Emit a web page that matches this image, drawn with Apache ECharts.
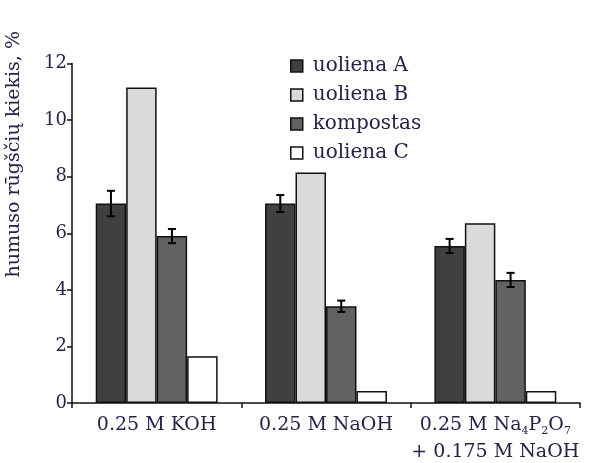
<!DOCTYPE html>
<html><head><meta charset="utf-8">
<script src="https://cdn.jsdelivr.net/npm/echarts@6/dist/echarts.min.js"></script>
<style>html,body{margin:0;padding:0;background:#fff}#c{width:590px;height:463px}</style>
</head><body><div id="c"></div>
<script>
var categories = ['0.25 M KOH', '0.25 M NaOH', '0.25 M Na4P2O7 + 0.175 M NaOH'];
var seriesNames = ['uoliena A', 'uoliena B', 'kompostas', 'uoliena C'];
var valuesA = [7.05, 7.05, 5.55];
var errorsA = [0.45, 0.3, 0.25];
var valuesB = [11.15, 8.15, 6.35];
var valuesK = [5.9, 3.42, 4.35];
var errorsK = [0.25, 0.2, 0.25];
var valuesC = [1.65, 0.42, 0.42];
var yTicks = [0, 2, 4, 6, 8, 10, 12];

var txt = '#24244a';
var font = '"DejaVu Serif", "Liberation Serif", serif';
var colors = ['#404042', '#dadadc', '#626264', '#ffffff'];
var catGap = 0.28;
var nBars = 4;

function errSeries(vals, errs, idx) {
  var data = vals.map(function (v, i) { return [i, v, errs[i]]; });
  return {
    type: 'custom', silent: true, z: 5,
    data: data,
    renderItem: function (params, api) {
      var ci = api.value(0), v = api.value(1), e = api.value(2);
      var bandW = api.size([1, 0])[0];
      var groupW = bandW * (1 - catGap);
      var bw = groupW / nBars;
      var off = -groupW / 2 + bw * (idx + 0.5);
      var top = api.coord([ci, v + e]);
      var bot = api.coord([ci, v - e]);
      var x = top[0] + off;
      var cap = 4;
      var st = { stroke: '#000', lineWidth: 2 };
      return { type: 'group', children: [
        { type: 'line', shape: { x1: x, y1: top[1], x2: x, y2: bot[1] }, style: st },
        { type: 'line', shape: { x1: x - cap, y1: top[1], x2: x + cap, y2: top[1] }, style: st },
        { type: 'line', shape: { x1: x - cap, y1: bot[1], x2: x + cap, y2: bot[1] }, style: st }
      ]};
    }
  };
}

function barSeries(name, vals, color) {
  return {
    name: name, type: 'bar', data: vals, barGap: '0%', barCategoryGap: (catGap * 100) + '%',
    itemStyle: { color: color, borderColor: '#111', borderWidth: 1.5 },
    emphasis: { disabled: true }
  };
}

var chart = echarts.init(document.getElementById('c'), null, { renderer: 'canvas' });
chart.setOption({
  animation: false,
  backgroundColor: '#fff',
  grid: { left: 72, right: 10, top: 63.5, bottom: 60, containLabel: false, outerBoundsMode: 'none' },
  legend: {
    orient: 'vertical', left: 285, top: 51,
    itemWidth: 12, itemHeight: 12, itemGap: 9,
    icon: 'rect',
    data: seriesNames,
    itemStyle: { borderColor: '#111', borderWidth: 1.5 },
    textStyle: { fontFamily: font, fontSize: 20, color: txt, padding: [0, 0, 0, 5] }
  },
  xAxis: {
    type: 'category', data: categories,
    axisLine: { lineStyle: { color: '#111', width: 1.5 } },
    axisTick: { show: true, interval: 0, length: 5, lineStyle: { color: '#111', width: 1.5 } },
    axisLabel: {
      interval: 0, hideOverlap: false,
      margin: 9, color: txt, fontFamily: font, fontSize: 19, lineHeight: 27,
      formatter: function (v) {
        if (v.indexOf('Na4P2O7') >= 0) {
          return '0.25 M Na{s|4}P{s|2}O{s|7}\n+ 0.175 M NaOH';
        }
        return v;
      },
      rich: { s: { fontSize: 11, fontFamily: font, color: txt, verticalAlign: 'middle', padding: [11, 0, 0, 0] } }
    }
  },
  yAxis: {
    type: 'value', min: yTicks[0], max: yTicks[yTicks.length - 1], interval: 2,
    name: 'humuso rūgščių kiekis, %', nameLocation: 'middle', nameGap: 48,
    nameTextStyle: { color: txt, fontFamily: font, fontSize: 19, padding: [0, 0, 0, 158] },
    splitLine: { show: false },
    axisLine: { show: true, lineStyle: { color: '#111', width: 1.5 } },
    axisTick: { show: true, length: 5, lineStyle: { color: '#111', width: 1.5 } },
    axisLabel: { margin: 5, color: txt, fontFamily: font, fontSize: 18 }
  },
  series: [
    barSeries(seriesNames[0], valuesA, colors[0]),
    barSeries(seriesNames[1], valuesB, colors[1]),
    barSeries(seriesNames[2], valuesK, colors[2]),
    barSeries(seriesNames[3], valuesC, colors[3]),
    errSeries(valuesA, errorsA, 0),
    errSeries(valuesK, errorsK, 2)
  ]
});
</script></body></html>
